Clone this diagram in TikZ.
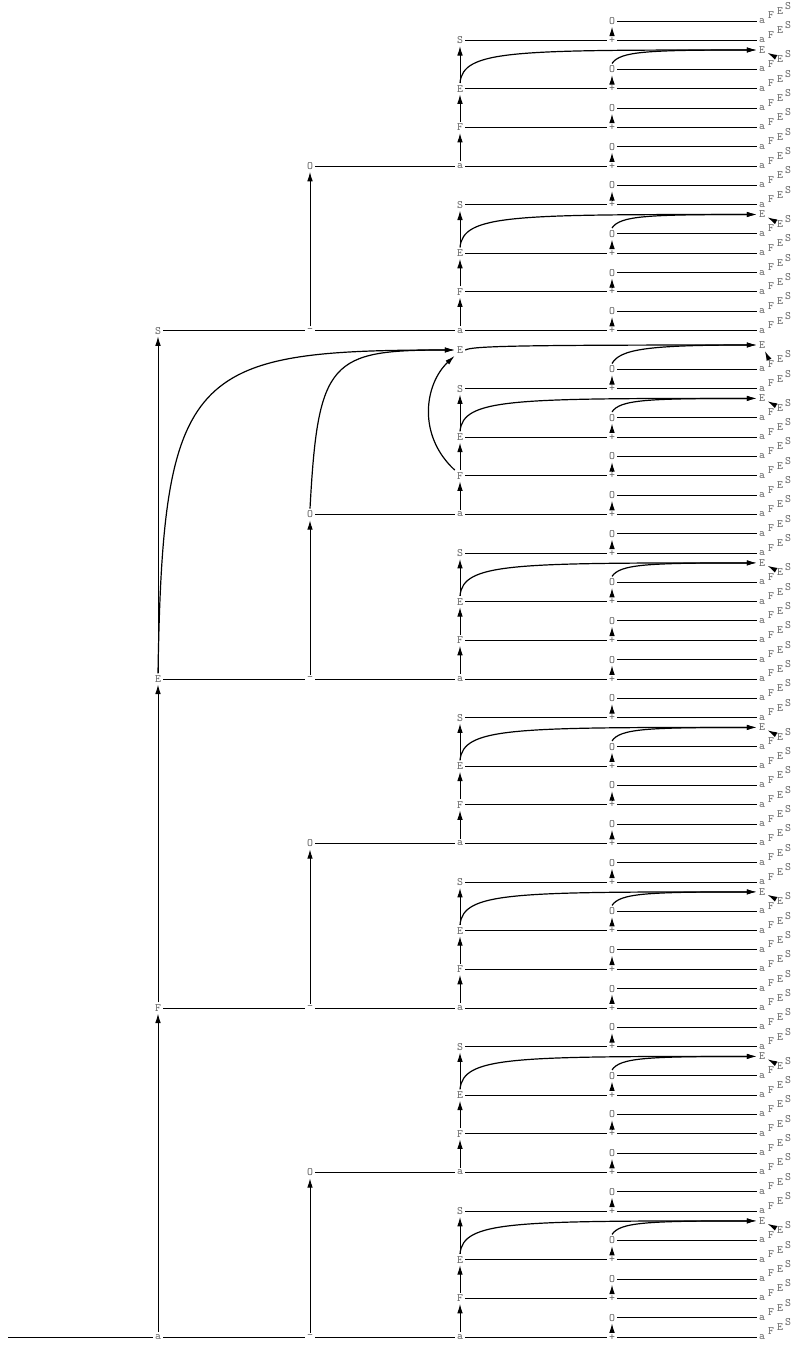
\documentclass[tikz,border=0pt]{standalone}
\usetikzlibrary{arrows.meta}
\begin{document}
\begin{tikzpicture}[x=0.75pt,y=-0.75pt,
  lbl/.style={font=\fontsize{8.5}{9}\selectfont\ttfamily,text=black!58,inner sep=1.5pt},
  ln/.style={line width=0.7pt},
  arr/.style={line width=0.7pt,-{Latex[length=7pt,width=4.2pt]}},
  crv/.style={line width=0.9pt,-{Latex[length=7.5pt,width=4pt]}},
]
\useasboundingbox (0,0) rectangle (791,1345);
\def\rr{19.35}
% ---- third-level units
\foreach \b [count=\i] in {1337,1172.5,1008,843.5,679,514.5,330.6,166.1}{
  \foreach \lab/\k/\m in {a/0/1,F/2/3,E/4/5,S/6.5/7.5}{
    \node[lbl] (n\i\lab) at (460,{\b-\k*\rr}) {\lab};
    \node[lbl] (p\i\lab) at (612,{\b-\k*\rr}) {+};
    \node[lbl] (o\i\lab) at (612,{\b-\m*\rr}) {O};
    \node[lbl] (ra\i\lab) at (762,{\b-\k*\rr}) {a};
    \node[lbl] (rb\i\lab) at (762,{\b-\m*\rr}) {a};
    \draw[ln] (n\i\lab) -- (p\i\lab) -- (ra\i\lab);
    \draw[ln] (o\i\lab) -- (rb\i\lab);
    \draw[arr] (p\i\lab) -- (o\i\lab);
    \foreach \q/\y in {ra/\k,rb/\m}{
      \node[lbl] (\q F\i\lab) at (771,{\b-\y*\rr-5.5}) {F};
      \node[lbl] (\q E\i\lab) at (780,{\b-\y*\rr-10}) {E};
      \node[lbl] (\q S\i\lab) at (788,{\b-\y*\rr-15}) {S};
    }
  }
  \node[lbl] (t\i) at (762,{\b-6*\rr}) {E};
  \draw[arr] (n\i a) -- (n\i F);
  \draw[arr] (n\i F) -- (n\i E);
  \draw[arr] (n\i E) -- (n\i S);
  \draw[crv] (n\i E.north) .. controls +(3,-33) and +(-245,0) .. (t\i.west);
  \draw[crv] (o\i E.north) .. controls +(8,-12) and +(-111,0) .. (t\i.west);
  \draw[crv] (rbE\i E) -- (t\i);
}
% ---- first level
\coordinate (start) at (8,1337);
\node[lbl] (c1a) at (158,1337) {a};
\node[lbl] (c1F) at (158,1008) {F};
\node[lbl] (c1E) at (158,679) {E};
\node[lbl] (c1S) at (158,330.6) {S};
\draw[ln] (start) -- (c1a);
\draw[arr] (c1a) -- (c1F);
\draw[arr] (c1F) -- (c1E);
\draw[arr] (c1E) -- (c1S);
% ---- second level
\foreach \y/\u/\v/\w [count=\j] in {1337/1/2/1172.5, 1008/3/4/843.5, 679/5/6/514.5, 330.6/7/8/166.1}{
  \node[lbl] (m\j) at (310,\y) {-};
  \node[lbl] (q\j) at (310,\w) {O};
  \draw[ln] (m\j) -- (n\u a);
  \draw[ln] (q\j) -- (n\v a);
  \draw[arr] (m\j) -- (q\j);
}
\draw[ln] (c1a) -- (m1);
\draw[ln] (c1F) -- (m2);
\draw[ln] (c1E) -- (m3);
\draw[ln] (c1S) -- (m4);
% ---- extra E target
\node[lbl] (e3) at (460,350) {E};
\node[lbl] (t0) at (762,345) {E};
\draw[crv] (c1E.north) .. controls (163,370) and (190,350) .. (e3.west);
\draw[crv] (q3.north) .. controls (318,360) and (330,350) .. (e3.west);
\draw[crv] (n6F.north west) .. controls +(-38,-35) and +(-30,28) .. (e3.south west);
\draw[crv] (e3.east) .. controls +(7,-4) and +(-237,0) .. (t0.west);
\draw[crv] (o6S.north) .. controls +(8,-14) and +(-111,0) .. (t0.west);
\draw[crv] (rbF6S) -- (t0);
\end{tikzpicture}
\end{document}
